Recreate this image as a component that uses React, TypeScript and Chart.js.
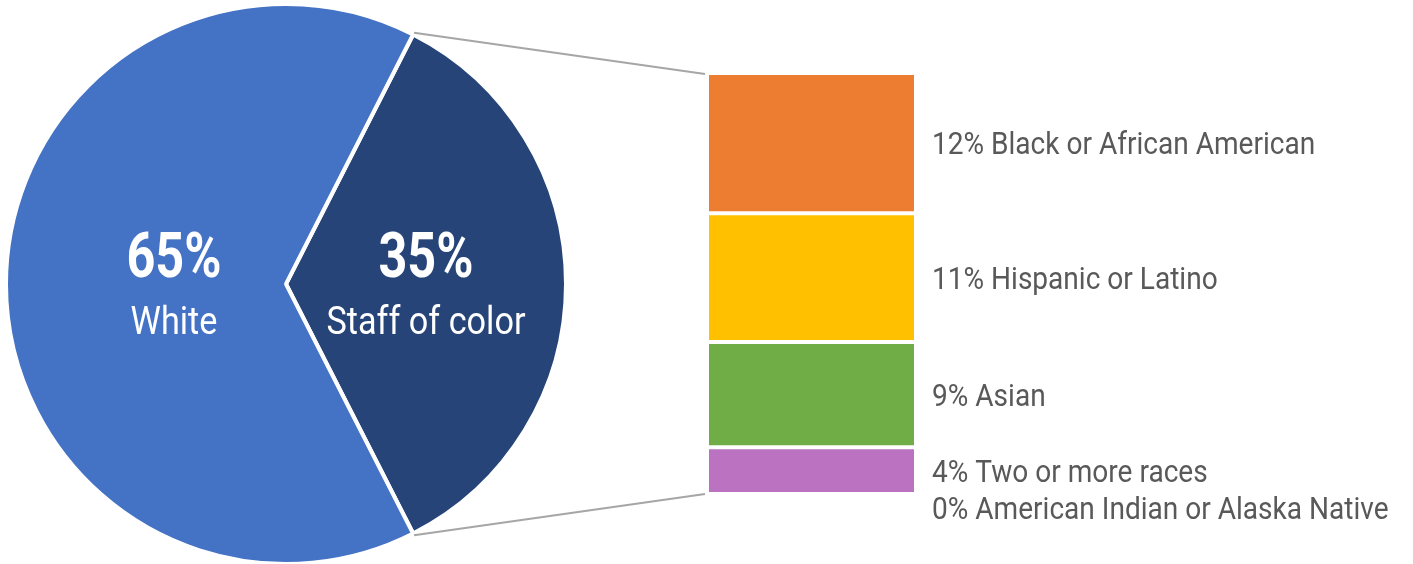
import React, { useEffect, useRef } from "react";
import { Chart, registerables } from "chart.js";

Chart.register(...registerables);

// ---- data ----
const pieLabels = ["Staff of color", "White"];
const pieValues = [35, 65];
const pieColors = ["#264478", "#4472C4"];

const barLabels = [
  "Black or African American",
  "Hispanic or Latino",
  "Asian",
  "Two or more races",
  "American Indian or Alaska Native",
];
const barValues = [12, 11, 9, 4, 0];
const barColors = ["#ED7D31", "#FFC000", "#70AD47", "#BA72C1", "#9E480E"];

// ---- style ----
const W = 1413;
const H = 564;
const FONT = "Roboto, 'Open Sans', sans-serif";
const pieLabelRadius = [0.5, 0.4];

function condensedText(
  ctx: CanvasRenderingContext2D,
  text: string,
  x: number,
  y: number,
  font: string,
  color: string,
  align: CanvasTextAlign,
  squeeze: number
) {
  ctx.save();
  ctx.font = font;
  ctx.fillStyle = color;
  ctx.textAlign = align;
  ctx.textBaseline = "alphabetic";
  ctx.translate(x, y);
  ctx.scale(squeeze, 1);
  ctx.fillText(text, 0, 0);
  ctx.restore();
}

const pieLabelPlugin = {
  id: "pieLabels",
  afterDatasetsDraw(chart: any) {
    const ctx = chart.ctx;
    const meta = chart.getDatasetMeta(0);
    meta.data.forEach((arc: any, i: number) => {
      const { x, y, startAngle, endAngle, outerRadius } = arc.getProps(
        ["x", "y", "startAngle", "endAngle", "outerRadius"],
        true
      );
      const mid = (startAngle + endAngle) / 2;
      const lx = x + Math.cos(mid) * outerRadius * pieLabelRadius[i];
      const ly = y + Math.sin(mid) * outerRadius * pieLabelRadius[i];
      condensedText(ctx, pieValues[i] + "%", lx, ly - 7, `bold 63px ${FONT}`, "#ffffff", "center", 0.8);
      condensedText(ctx, pieLabels[i], lx, ly + 50, `38px ${FONT}`, "#ffffff", "center", 0.9);
    });
  },
};

function makeBarExtras(getPie: () => any) {
  return {
    id: "barExtras",
    afterDraw(chart: any) {
      const ctx = chart.ctx;
      let top = Infinity;
      let bottom = -Infinity;
      let left = Infinity;
      const els: any[] = [];
      chart.data.datasets.forEach((_ds: any, i: number) => {
        const el = chart.getDatasetMeta(i).data[0];
        const p = el.getProps(["x", "y", "base", "width"], true);
        els.push(p);
        top = Math.min(top, p.y, p.base);
        bottom = Math.max(bottom, p.y, p.base);
        left = Math.min(left, p.x - p.width / 2);
      });

      const pie = getPie();
      if (pie) {
        const arc = pie.getDatasetMeta(0).data[0];
        const { x, y, startAngle, endAngle, outerRadius } = arc.getProps(
          ["x", "y", "startAngle", "endAngle", "outerRadius"],
          true
        );
        const r = outerRadius + 2;
        ctx.save();
        ctx.strokeStyle = "#A6A6A6";
        ctx.lineWidth = 2;
        ctx.beginPath();
        ctx.moveTo(x + Math.cos(startAngle) * r, y + Math.sin(startAngle) * r);
        ctx.lineTo(left - 2, top + 1);
        ctx.moveTo(x + Math.cos(endAngle) * r, y + Math.sin(endAngle) * r);
        ctx.lineTo(left - 2, bottom);
        ctx.stroke();
        ctx.restore();
      }

      let prev = -Infinity;
      els.forEach((p, i) => {
        const c = (p.y + p.base) / 2;
        const ly = Math.max(c, prev + 37);
        prev = ly;
        condensedText(
          ctx,
          `${barValues[i]}% ${barLabels[i]}`,
          chart.chartArea.right + 16,
          ly + 11,
          `31px ${FONT}`,
          "#595959",
          "left",
          0.905
        );
      });
    },
  };
}

export default function App() {
  const pieRef = useRef<HTMLCanvasElement>(null);
  const barRef = useRef<HTMLCanvasElement>(null);

  useEffect(() => {
    if (!pieRef.current || !barRef.current) return;
    const pie = new Chart(pieRef.current, {
      type: "pie",
      data: {
        labels: pieLabels,
        datasets: [
          {
            data: pieValues,
            backgroundColor: pieColors,
            borderColor: "#ffffff",
            borderWidth: 4,
          },
        ],
      },
      options: {
        responsive: false,
        animation: false,
        events: [],
        rotation: 27,
        layout: { padding: { left: 4, right: W - 4 - 564, top: 2, bottom: 4 } },
        plugins: { legend: { display: false }, tooltip: { enabled: false } },
      },
      plugins: [pieLabelPlugin],
    });

    const total = barValues.reduce((a, b) => a + b, 0);
    const bar = new Chart(barRef.current, {
      type: "bar",
      data: {
        labels: [""],
        datasets: barValues.map((v, i) => ({
          label: barLabels[i],
          data: [v],
          backgroundColor: barColors[i],
          borderColor: "#ffffff",
          borderWidth: 2,
          borderSkipped: false,
          inflateAmount: 0,
          barPercentage: 1,
          categoryPercentage: 1,
        })),
      },
      options: {
        responsive: false,
        animation: false,
        events: [],
        layout: { padding: { left: 707, right: W - 916, top: 73, bottom: H - 494 } },
        scales: {
          x: { stacked: true, display: false },
          y: { stacked: true, display: false, reverse: true, min: 0, max: total },
        },
        plugins: { legend: { display: false }, tooltip: { enabled: false } },
      },
      plugins: [makeBarExtras(() => pie)],
    });

    return () => {
      bar.destroy();
      pie.destroy();
    };
  }, []);

  return (
    <div
      style={{
        position: "fixed",
        left: 0,
        top: 0,
        width: W,
        height: H,
        overflow: "hidden",
        background: "#ffffff",
      }}
    >
      <canvas ref={pieRef} width={W} height={570} style={{ position: "absolute", left: 0, top: 0 }} />
      <canvas ref={barRef} width={W} height={H} style={{ position: "absolute", left: 0, top: 0 }} />
    </div>
  );
}
